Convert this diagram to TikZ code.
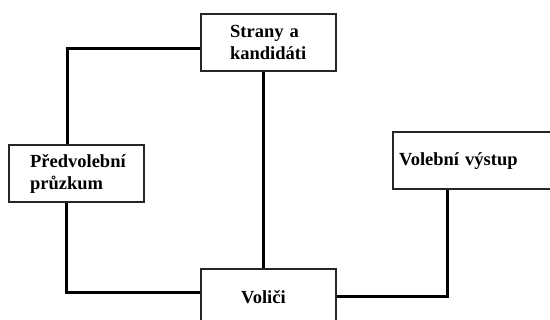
\documentclass[tikz,border=0pt]{standalone}
\usepackage{fontspec}
\setmainfont{Liberation Serif}
\begin{document}
\begin{tikzpicture}[x=1pt,y=-1pt,
  box/.style={draw=black!85, line width=2.2pt, fill=white, rectangle, anchor=north west,
    minimum height=57pt, align=left, inner ysep=0pt,
    font=\bfseries\fontsize{18.5}{22}\selectfont},
  link/.style={line width=3pt, black, line join=miter}]
  \useasboundingbox (0,0) rectangle (550,320);
  \clip (0,0) rectangle (550,320);
  % boxes
  \node[box, minimum width=135pt, text width=77pt, inner xsep=29pt] (parties) at (200,13) {Strany a\\kandidáti};
  \node[box, minimum width=135pt, text width=93pt, inner xsep=21pt] (poll) at (8,144) {Předvolební\\průzkum};
  \node[box, minimum width=168pt, text width=156pt, inner xsep=6pt] (exit) at (392,131) {Volební výstup};
  \node[box, minimum width=135pt, text width=55pt, inner xsep=40pt] (voters) at (200,268) {Voliči};
  % connectors
  \draw[link] ([yshift=-5.5pt]parties.west) -| ([xshift=-9.5pt]poll.north);
  \draw[link] ([xshift=-10pt]poll.south) |- ([yshift=5.5pt]voters.west);
  \draw[link] ([xshift=-5.5pt]parties.south) -- ([xshift=-5.5pt]voters.north);
  \draw[link] ([yshift=0.8pt]voters.east) -| ([xshift=-30pt]exit.south);
\end{tikzpicture}
\end{document}
